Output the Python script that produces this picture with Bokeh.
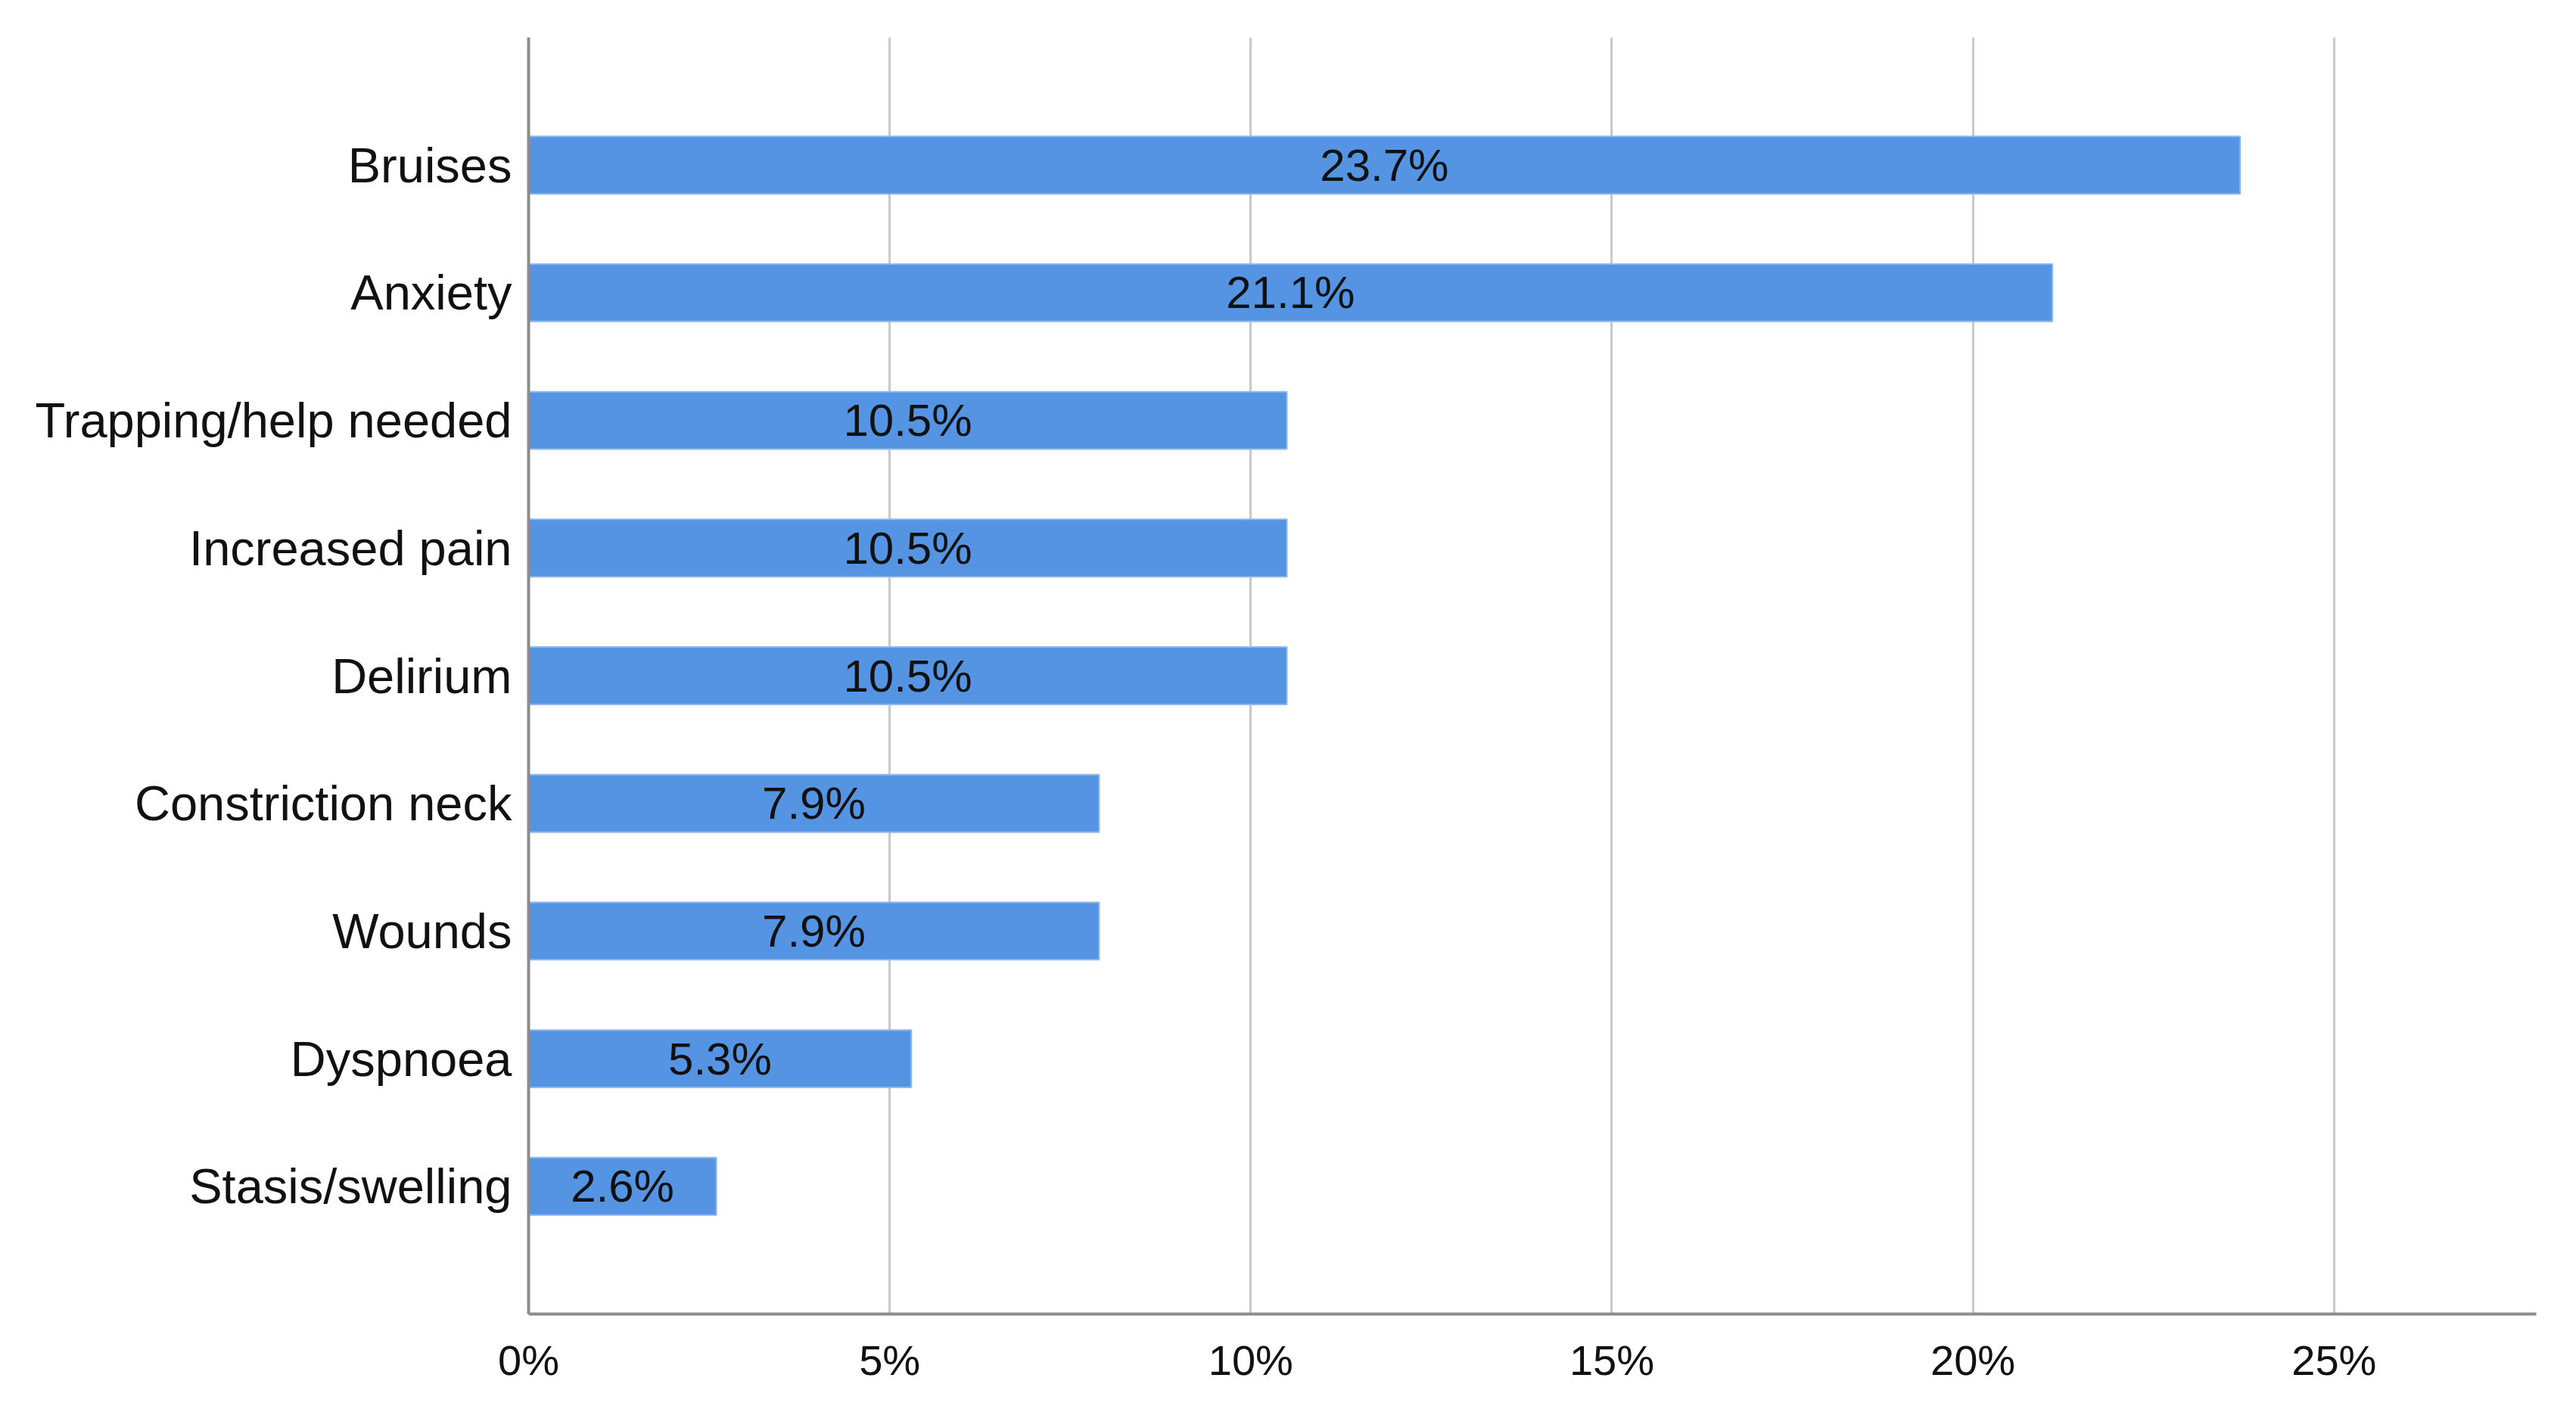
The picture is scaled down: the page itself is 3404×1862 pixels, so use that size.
from bokeh.plotting import figure
from bokeh.models import ColumnDataSource, FactorRange, Range1d, FixedTicker, PrintfTickFormatter
from bokeh.embed import file_html
from bokeh.resources import INLINE
from bokeh.core.properties import value

categories = ["Bruises", "Anxiety", "Trapping/help needed", "Increased pain", "Delirium",
              "Constriction neck", "Wounds", "Dyspnoea", "Stasis/swelling"]
percent = [23.7, 21.1, 10.5, 10.5, 10.5, 7.9, 7.9, 5.3, 2.6]
x_ticks = [0, 5, 10, 15, 20, 25]
x_max = 27.8

FONT = "Liberation Sans"

src = ColumnDataSource(dict(
    cat=categories,
    val=percent,
    mid=[v / 2 for v in percent],
    lab=[f"{v:.1f}%" for v in percent],
))

p = figure(width=3388, height=1846, output_backend="svg", toolbar_location=None,
           y_range=FactorRange(factors=categories[::-1], range_padding=1/9, range_padding_units="percent"),
           x_range=Range1d(0, x_max))

p.min_border_left = 698
p.min_border_right = 37
p.min_border_top = 49
p.min_border_bottom = 110
p.outline_line_color = None
p.background_fill_color = "white"
p.border_fill_color = "white"

p.hbar(y="cat", right="val", left=0, height=0.45, source=src,
       fill_color="#5594e3", line_color="#8fb8ee", line_width=2)

p.text(x="mid", y="cat", text="lab", source=src, text_align="center", text_baseline="middle",
       text_font=value(FONT), text_font_size="60px", text_color="#111111")

# grid
p.ygrid.grid_line_color = None
p.xgrid.ticker = FixedTicker(ticks=x_ticks)
p.xgrid.grid_line_color = "#c8c8c8"
p.xgrid.grid_line_width = 3

# x axis
xa = p.xaxis[0]
xa.ticker = FixedTicker(ticks=x_ticks)
xa.formatter = PrintfTickFormatter(format="%d%%")
xa.major_label_text_font = FONT
xa.major_label_text_font_size = "56px"
xa.major_label_text_color = "#111111"
xa.major_label_standoff = 23
xa.major_tick_line_color = None
xa.minor_tick_line_color = None
xa.axis_line_color = "#8c8c8c"
xa.axis_line_width = 4

# y axis
ya = p.yaxis[0]
ya.major_label_text_font = FONT
ya.major_label_text_font_size = "65px"
ya.major_label_text_color = "#111111"
ya.major_label_standoff = 16
ya.major_tick_line_color = None
ya.minor_tick_line_color = None
ya.axis_line_color = "#8c8c8c"
ya.axis_line_width = 4

open("out.html", "w").write(file_html(p, INLINE))
